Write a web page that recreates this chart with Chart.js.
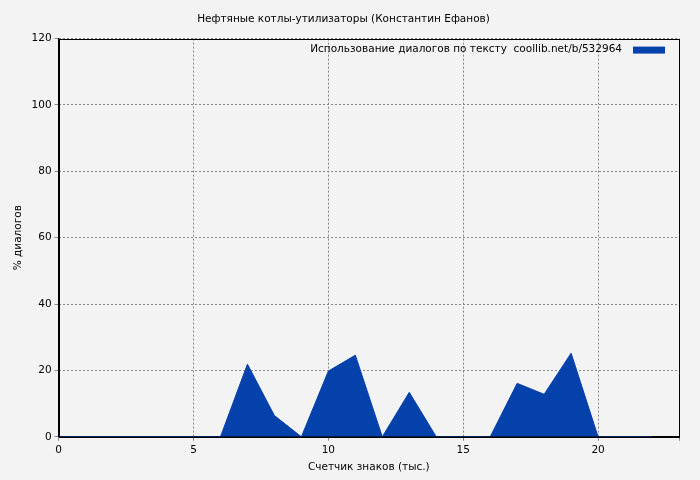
<!DOCTYPE html>
<html><head><meta charset="utf-8">
<script src="https://cdn.jsdelivr.net/npm/chart.js@4"></script>
<style>html,body{margin:0;background:#f3f3f3}</style></head>
<body><div style="width:700px;height:480px"><canvas id="c"></canvas></div>
<script>
const xValues=[0,1,2,3,4,5,6,7,8,9,10,11,12,13,14,15,16,17,18,19,20,21,22];
const yValues=[0,0,0,0,0,0,0,21.9,6.4,0,19.8,24.6,0,13.4,0,0,0,16.1,12.8,25.2,0,0,0];
const seriesLabel='Использование диалогов по тексту  coollib.net/b/532964';
const titleText='Нефтяные котлы-утилизаторы (Константин Ефанов)';
const xTitle='Счетчик знаков (тыс.)';
const yTitle='% диалогов';
const F='DejaVu Sans';
const legendPlugin={id:'lg',afterDraw(ch){const a=ch.chartArea,c=ch.ctx;c.save();c.font='10.5px '+F;c.fillStyle='#000';c.textAlign='right';c.textBaseline='middle';c.fillText(seriesLabel,a.right-57,a.top+11);c.fillStyle='#0441aa';c.fillRect(a.right-46,a.top+8,32,7);
c.strokeStyle='#000';c.lineWidth=1;c.strokeRect(Math.round(a.left)+0.5,Math.round(a.top)+0.5,Math.round(a.right-a.left),Math.round(a.bottom-a.top));c.restore();}};
new Chart(document.getElementById('c'),{type:'line',
data:{datasets:[{label:seriesLabel,data:xValues.map((x,i)=>({x,y:yValues[i]})),fill:'origin',backgroundColor:'#0441aa',borderColor:'#0441aa',borderWidth:1,pointRadius:0,tension:0}]},
options:{responsive:true,maintainAspectRatio:false,animation:false,
layout:{padding:{top:7,right:21,left:8,bottom:2}},
plugins:{legend:{display:false},tooltip:{enabled:false},
title:{display:true,text:titleText,color:'#000',font:{family:F,size:10.5,weight:'normal'},padding:{top:6,bottom:13}}},
scales:{x:{type:'linear',min:0,max:23,ticks:{stepSize:5,color:'#000',font:{family:F,size:10.5},callback:v=>v%5===0?v:''},
grid:{color:'#888',tickLength:4,drawTicks:true},border:{color:'#000',dash:[2,2]},
title:{display:true,text:xTitle,color:'#000',font:{family:F,size:10.5},padding:{top:2}}},
y:{min:0,max:120,ticks:{stepSize:20,color:'#000',font:{family:F,size:10.5}},
grid:{color:'#888',tickLength:4},border:{color:'#000',dash:[2,2]},
title:{display:true,text:yTitle,color:'#000',font:{family:F,size:10.5}}}}},
plugins:[legendPlugin]});
</script></body></html>
